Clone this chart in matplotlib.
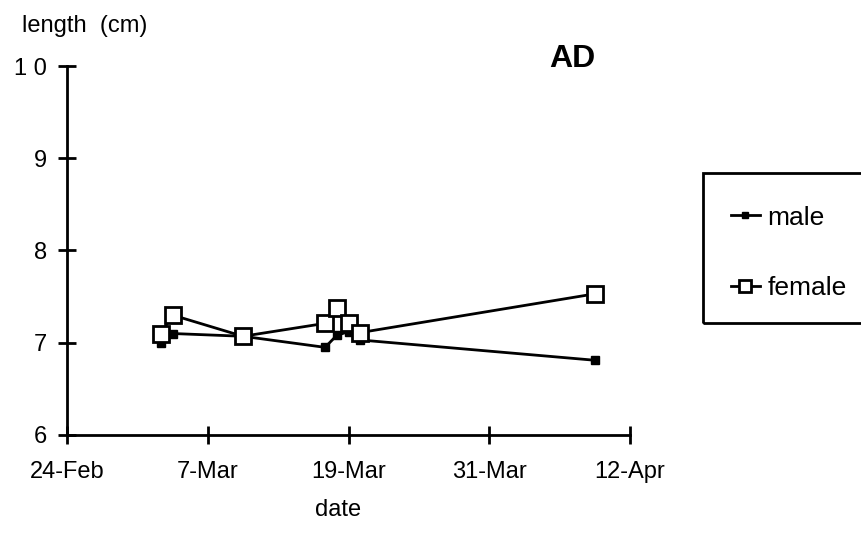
import matplotlib.pyplot as plt
from matplotlib.patches import Rectangle
import pandas as pd

plt.rcParams['font.family'] = ['Liberation Sans', 'DejaVu Sans']

# sampling dates (leap year, so 24-Feb to 7-Mar is 12 days)
dates = pd.to_datetime(['1996-03-03', '1996-03-04', '1996-03-10', '1996-03-17',
                        '1996-03-18', '1996-03-19', '1996-03-20', '1996-04-09'])
male = [7.00, 7.10, 7.07, 6.95, 7.08, 7.12, 7.03, 6.81]
female = [7.10, 7.30, 7.07, 7.21, 7.38, 7.21, 7.11, 7.53]

tick_dates = pd.to_datetime(['1996-02-24', '1996-03-07', '1996-03-19',
                             '1996-03-31', '1996-04-12'])
tick_labels = ['24-Feb', '7-Mar', '19-Mar', '31-Mar', '12-Apr']
y_ticks = [6, 7, 8, 9, 10]
y_labels = ['6', '7', '8', '9', '1 0']

fig = plt.figure(figsize=(8.62, 5.47), dpi=100)
ax = fig.add_axes([0.0777, 0.2048, 0.6532, 0.6745])

ax.plot(dates, male, '-', color='black', lw=2, marker='s', ms=6,
        mfc='black', mec='black', label='male', zorder=2)
ax.plot(dates, female, '-', color='black', lw=2, marker='s', ms=12,
        mfc='white', mec='black', mew=2, label='female', zorder=3)

ax.set_xlim(tick_dates[0], tick_dates[-1])
ax.set_ylim(6, 10)
ax.set_xticks(tick_dates)
ax.set_xticklabels(tick_labels)
ax.set_yticks(y_ticks)
ax.set_yticklabels(y_labels)

for s in ['top', 'right']:
    ax.spines[s].set_visible(False)
for s in ['left', 'bottom']:
    ax.spines[s].set_linewidth(2)
ax.tick_params(direction='inout', length=13, width=2, labelsize=17, pad=12)
ax.tick_params(axis='y', pad=8)

fig.text(0.025, 0.953, 'length  (cm)', fontsize=17, ha='left', va='center')
fig.text(0.392, 0.068, 'date', fontsize=17, ha='center', va='center')
fig.text(0.664, 0.892, 'AD', fontsize=23, fontweight='bold', ha='center', va='center')

# legend box
fig.patches.append(Rectangle((0.8155, 0.4095), 0.2, 0.2742, transform=fig.transFigure,
                             fill=False, edgecolor='black', lw=2))
fig.legend(loc='center left', bbox_to_anchor=(0.82, 0.538), frameon=False,
           fontsize=19, handlelength=1.1, handletextpad=0.3, labelspacing=1.75,
           markerscale=0.75)

fig.savefig('out.png', dpi=100)
